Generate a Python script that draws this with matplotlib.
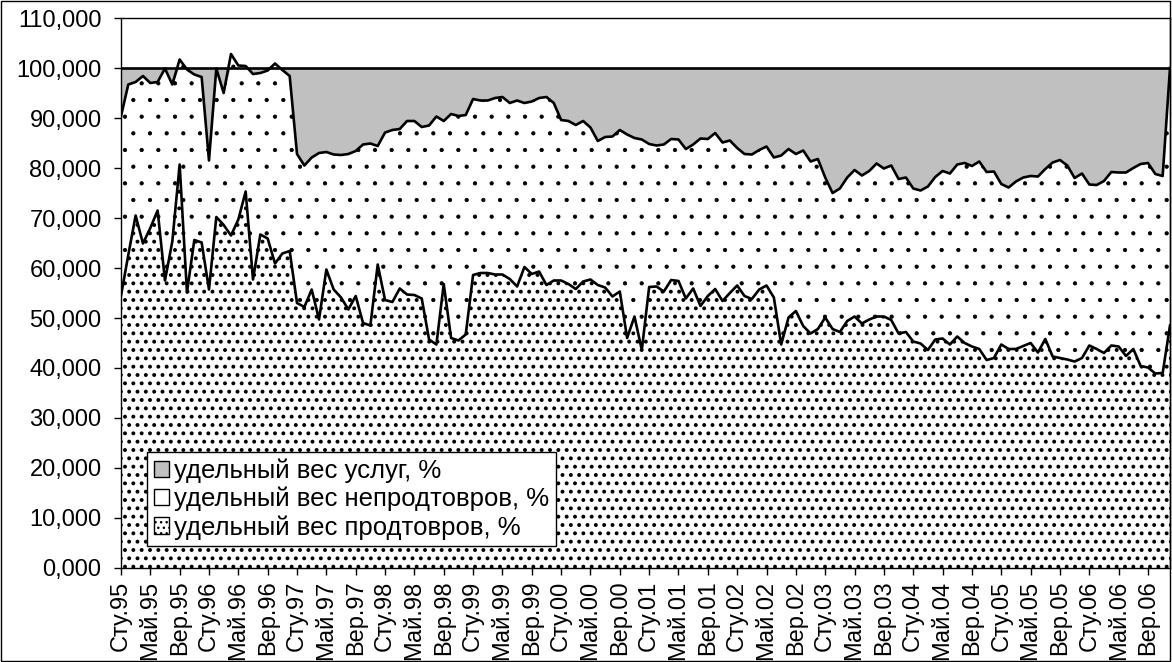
import numpy as np
import matplotlib.pyplot as plt
from matplotlib.patches import Patch, Rectangle

plt.rcParams['font.family'] = ['Liberation Sans', 'DejaVu Sans']

# monthly shares, Jan 1995 .. Dec 2006 (%)
food = [
    54.4, 62.6, 70.5, 64.9, 68.0, 71.5, 57.5, 65.3, 80.7, 55.1, 65.6, 65.1,
    55.7, 70.2, 68.6, 66.5, 69.7, 75.3, 57.7, 66.7, 65.9, 60.9, 62.9, 63.4,
    53.0, 52.2, 55.7, 49.7, 59.7, 55.7, 54.1, 51.7, 54.4, 49.0, 48.5, 60.7,
    53.6, 53.2, 55.9, 54.7, 54.6, 53.9, 45.7, 44.7, 56.8, 46.0, 45.5, 46.7,
    58.6, 59.0, 59.0, 58.7, 58.7, 57.8, 56.3, 60.2, 58.8, 59.3, 56.6, 57.5,
    57.5, 56.8, 55.8, 57.3, 57.7, 56.6, 56.1, 54.3, 55.3, 46.0, 50.3, 43.6,
    56.2, 56.3, 55.3, 57.6, 57.4, 53.9, 55.9, 52.4, 54.4, 55.8, 53.4, 55.0,
    56.5, 54.4, 53.8, 55.7, 56.5, 54.1, 44.7, 50.1, 51.4, 48.4, 46.9, 47.8,
    50.1, 47.8, 47.2, 49.4, 50.3, 48.9, 49.7, 50.3, 50.3, 49.6, 46.9, 47.2,
    45.3, 44.9, 43.6, 45.7, 45.9, 44.7, 46.3, 45.0, 44.3, 43.8, 41.6, 42.0,
    44.7, 43.8, 43.8, 44.4, 45.0, 43.1, 45.8, 42.3, 42.0, 41.7, 41.3, 42.0,
    44.5, 43.8, 43.0, 44.5, 44.3, 42.4, 43.8, 40.4, 40.1, 38.9, 39.0, 48.5,
]
nonfood = [
    35.9, 34.1, 26.7, 33.5, 29.0, 25.7, 42.4, 31.4, 21.0, 44.6, 33.1, 33.1,
    25.8, 29.7, 26.4, 36.3, 30.8, 25.1, 41.1, 32.3, 33.6, 40.0, 36.7, 35.0,
    29.8, 28.3, 26.4, 33.3, 23.5, 27.0, 28.5, 31.1, 29.0, 35.7, 36.4, 23.7,
    33.5, 34.4, 31.9, 34.7, 34.8, 34.3, 42.8, 45.6, 32.6, 44.8, 44.9, 43.9,
    35.2, 34.5, 34.5, 35.3, 35.5, 35.2, 37.2, 32.8, 34.5, 34.7, 37.6, 35.5,
    32.1, 32.6, 32.8, 32.1, 30.4, 28.8, 30.1, 32.0, 32.3, 40.7, 35.7, 42.1,
    28.6, 28.2, 29.4, 28.2, 28.3, 29.9, 28.8, 33.5, 31.4, 31.2, 31.7, 30.5,
    27.5, 28.4, 28.9, 27.9, 27.8, 28.0, 37.8, 33.7, 31.4, 35.1, 34.4, 34.0,
    28.0, 27.2, 28.7, 28.7, 29.3, 29.6, 29.7, 30.6, 29.6, 30.9, 30.9, 30.9,
    30.6, 30.6, 32.7, 32.5, 33.5, 34.2, 34.4, 36.0, 36.1, 37.5, 37.6, 37.3,
    32.1, 32.3, 33.5, 33.7, 33.4, 35.2, 34.0, 38.8, 39.6, 38.8, 36.7, 36.9,
    32.2, 32.8, 34.4, 34.7, 34.8, 36.7, 36.2, 40.4, 40.9, 39.9, 39.4, 51.5,
]
years = list(range(95, 107))
month_names = ['Сту', 'Май', 'Вер']   # every 4th month
labels = ['удельный вес услуг, %', 'удельный вес непродтовров, %',
          'удельный вес продтовров, %']

food = np.array(food)
nonfood = np.array(nonfood)
services = 100 - food - nonfood        # remainder up to 100 %
x = np.arange(len(food))
lvl1 = food
lvl2 = food + nonfood
lvl3 = lvl2 + services

fig = plt.figure(figsize=(11.72, 6.62), dpi=100)
ax = fig.add_axes([0.1032, 0.142, 0.8951, 0.8308])

with plt.rc_context({'hatch.linewidth': 1.6}):
    ax.fill_between(x, 0, lvl1, facecolor='white', edgecolor='black', lw=0, hatch='..')
with plt.rc_context({'hatch.linewidth': 0.6}):
    ax.fill_between(x, lvl1, lvl2, facecolor='white', edgecolor='black', lw=0, hatch='.')
ax.fill_between(x, np.minimum(lvl2, lvl3), lvl3, facecolor='#c0c0c0', lw=0)
ax.plot(x, lvl1, color='black', lw=1.9)
ax.plot(x, lvl2, color='black', lw=1.9)
ax.plot(x, lvl3, color='black', lw=1.9)

ax.set_xlim(0, len(food) - 1)
ax.set_ylim(0, 110)
ax.set_yticks(np.arange(0, 111, 10))
ax.set_yticklabels([f'{v:.3f}'.replace('.', ',') for v in range(0, 111, 10)])
tick_labels = [f'{m}.{y % 100:02d}' for y in years for m in month_names]
ax.set_xticks(np.arange(0, len(food), 4))
ax.set_xticklabels(tick_labels, rotation=90)
ax.tick_params(direction='out', length=5, width=1, labelsize=17, color='black')
ax.tick_params(axis='y', pad=9)
ax.tick_params(axis='x', pad=4)
for s in ax.spines.values():
    s.set_linewidth(1)
    s.set_color('black')

handles = [Patch(facecolor='#c0c0c0', edgecolor='black'),
           Patch(facecolor='white', edgecolor='black'),
           Patch(facecolor='white', edgecolor='black', hatch='...')]
leg = ax.legend(handles, labels, loc='upper left', bbox_to_anchor=(0.025, 0.211),
                borderaxespad=0, fontsize=18.5, fancybox=False, framealpha=1,
                edgecolor='black', handlelength=0.6, handleheight=0.6,
                handletextpad=0.2, labelspacing=0.15, borderpad=0.25)
leg.get_frame().set_linewidth(1)

fig.patches.append(Rectangle((0.001, 0.001), 0.997, 0.997, transform=fig.transFigure,
                             fill=False, edgecolor='black', lw=1))

fig.savefig('out.png', dpi=100)
